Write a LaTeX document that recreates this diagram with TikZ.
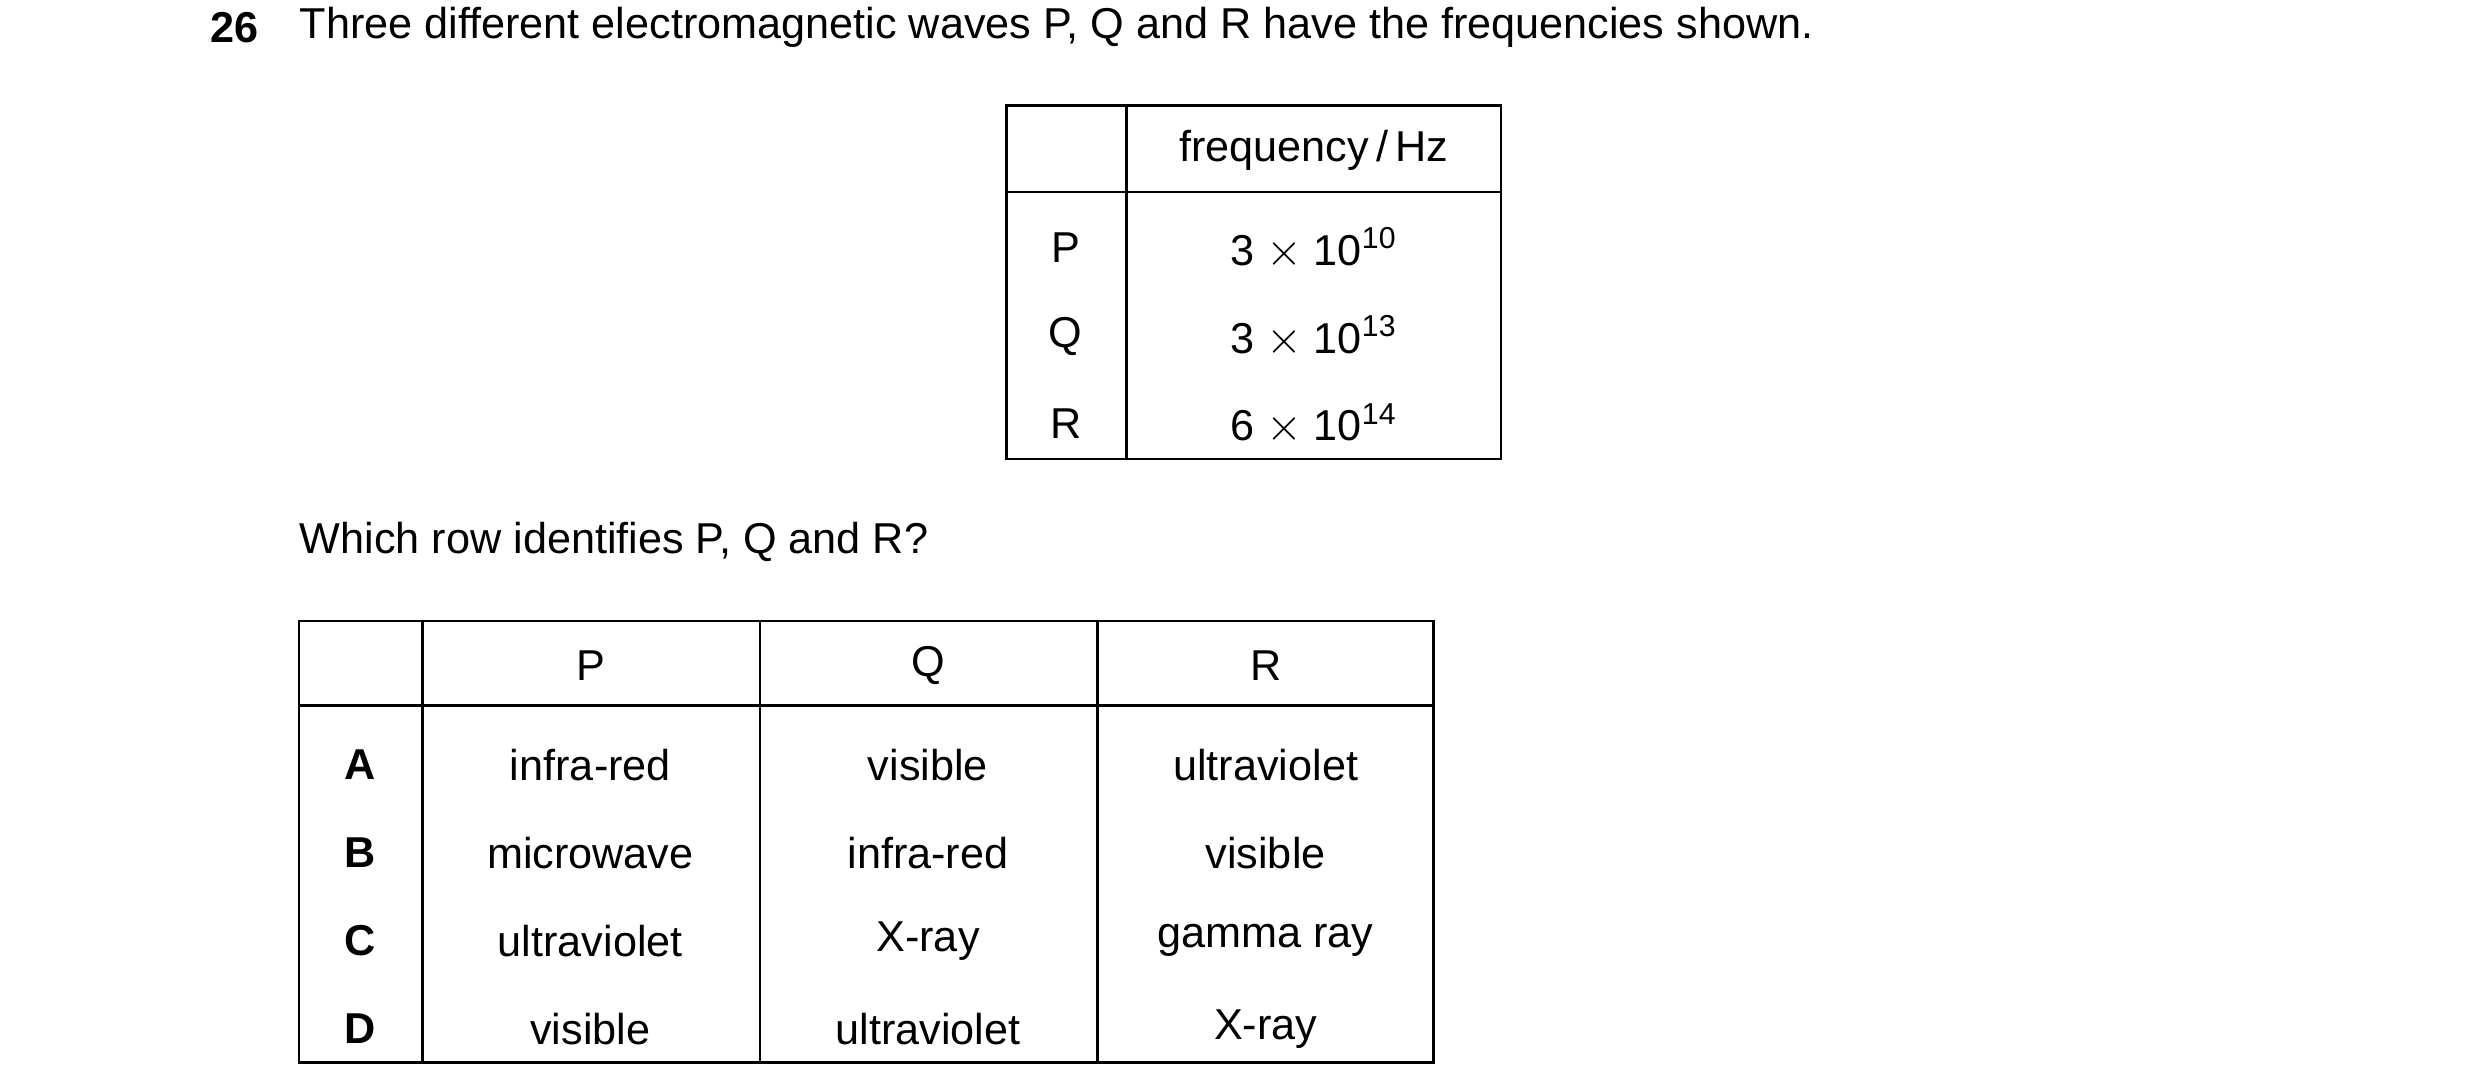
\documentclass[tikz,border=0pt]{standalone}
\usepackage{fontspec}
\setmainfont{Liberation Sans}
\begin{document}
\begin{tikzpicture}[x=0.5pt,y=-0.5pt,font=\fontsize{13.5}{16}\selectfont,
  ln/.style={line width=0.75pt},
  t/.style={anchor=center,inner sep=0pt},
  l/.style={anchor=west,inner sep=0pt}]
\useasboundingbox (0,0) rectangle (1550,682);
\node[l,font=\fontsize{13.5}{16}\selectfont\bfseries] (num) at (131,17) {26};
\node[l] (q1) at (187,17) {Three different electromagnetic waves P, Q and R have the frequencies shown.};
% top table
\draw[ln] (629,66) rectangle (938,287);
\draw[ln] (704,66) -- (704,287);
\draw[ln] (629,120) -- (938,120);
\node[t] (fh) at (821,94) {frequency\,/\,Hz};
\node[t] (rp) at (666,155) {P};
\node[t] (rq) at (666,210) {Q};
\node[t] (rr) at (666,265) {R};
\node[t] (fp) at (821,155) {3 $\times$ 10\textsuperscript{10}};
\node[t] (fq) at (821,210) {3 $\times$ 10\textsuperscript{13}};
\node[t] (fr) at (821,265) {6 $\times$ 10\textsuperscript{14}};
\node[l] (q2) at (187,339) {Which row identifies P, Q and R?};
% bottom table
\draw[ln] (187,388) rectangle (896,664);
\foreach \x in {264,475,686} \draw[ln] (\x,388) -- (\x,664);
\draw[ln] (187,441) -- (896,441);
\node[t] (hp) at (369,416) {P};
\node[t] (hq) at (580,416) {Q};
\node[t] (hr) at (791,416) {R};
\foreach \k/\y/\a/\b/\c in {A/478/infra-red/visible/ultraviolet,B/533/microwave/infra-red/visible,C/588/ultraviolet/X-ray/gamma ray,D/643/visible/ultraviolet/X-ray}{
  \node[t,font=\fontsize{13.5}{16}\selectfont\bfseries] (k\k) at (225,\y) {\k};
  \node[t] (p\k) at (369,\y) {\a};
  \node[t] (q\k) at (580,\y) {\b};
  \node[t] (r\k) at (791,\y) {\c};
}
\end{tikzpicture}
\end{document}
